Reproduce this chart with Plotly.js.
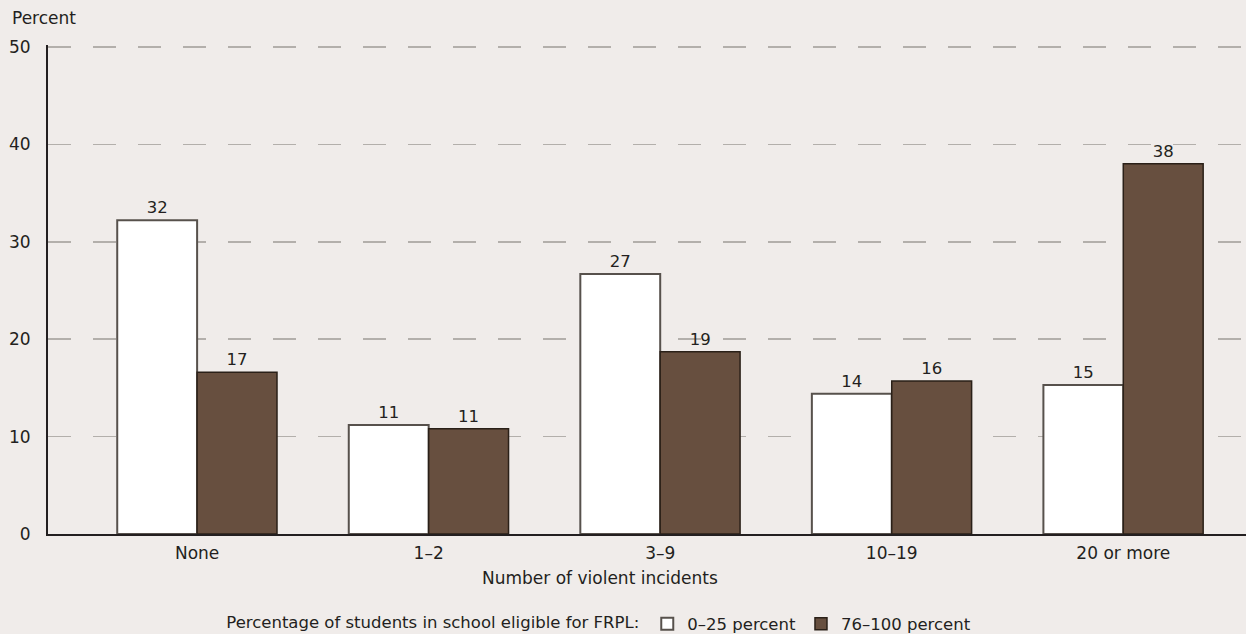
<!DOCTYPE html>
<html>
<head>
<meta charset="utf-8">
<script src="https://cdn.plot.ly/plotly-3.0.1.min.js"></script>
<style>html,body{margin:0;padding:0;background:#f0ecea;}#chart{width:1246px;height:634px;}</style>
</head>
<body>
<div id="chart"></div>
<script>
const categories = ["None", "1–2", "3–9", "10–19", "20 or more"];
const low = [32.2, 11.2, 26.7, 14.4, 15.3];
const high = [16.6, 10.8, 18.7, 15.7, 38.0];
const seriesNames = ["0–25 percent", "76–100 percent"];
const yTicks = [0, 10, 20, 30, 40, 50];

const FONT = "DejaVu Sans, sans-serif";
const traces = [
  {
    type: "bar", x: categories, y: low, name: seriesNames[0],
    marker: {color: "#ffffff", line: {color: "#57514c", width: 2}},
    texttemplate: "%{y:.0f}", textposition: "outside", cliponaxis: false,
    textfont: {family: FONT, size: 16.5, color: "#231f20"}, hoverinfo: "skip"
  },
  {
    type: "bar", x: categories, y: high, name: seriesNames[1],
    marker: {color: "#674f3f", line: {color: "#2a2018", width: 1.5}},
    texttemplate: "%{y:.0f}", textposition: "outside", cliponaxis: false,
    textfont: {family: FONT, size: 16.5, color: "#231f20"}, hoverinfo: "skip"
  }
];

const layout = {
  width: 1246, height: 634,
  paper_bgcolor: "#f0ecea", plot_bgcolor: "#f0ecea",
  margin: {l: 48, r: 0, t: 45, b: 100, autoexpand: false},
  font: {family: FONT, size: 16.5, color: "#231f20"},
  barmode: "group", bargap: 0.31, bargroupgap: 0,
  showlegend: true,
  legend: {
    orientation: "h", x: 0.461, xanchor: "center", y: -0.184, yanchor: "middle",
    font: {family: FONT, size: 16.5, color: "#231f20"},
    title: {text: "Percentage of students in school eligible for FRPL:", side: "left", font: {family: FONT, size: 16.5}},
    bgcolor: "rgba(0,0,0,0)", itemclick: false, traceorder: "normal"
  },
  xaxis: {
    type: "category", range: [-0.644, 4.53], showgrid: false,
    showline: true, linecolor: "#231f20", linewidth: 2, ticks: "", ticklabelstandoff: 3,
    tickfont: {family: FONT, size: 17, color: "#231f20"}, fixedrange: true
  },
  yaxis: {
    range: [0, 50.2], tickvals: yTicks, showgrid: true,
    gridcolor: "#b3afab", gridwidth: 1.5, griddash: "23px,22px",
    zeroline: false, showline: true, linecolor: "#231f20", linewidth: 2,
    ticks: "", ticklabelstandoff: 12, tickfont: {family: FONT, size: 17, color: "#231f20"}, fixedrange: true
  },
  annotations: [
    {text: "Percent", xref: "paper", yref: "paper", x: -0.032, y: 1.055, xanchor: "left", yanchor: "middle",
     showarrow: false, font: {family: FONT, size: 17, color: "#231f20"}},
    {text: "Number of violent incidents", xref: "paper", yref: "paper", x: 0.461, y: -0.09, xanchor: "center", yanchor: "middle",
     showarrow: false, font: {family: FONT, size: 17, color: "#231f20"}}
  ]
};

Plotly.newPlot("chart", traces, layout, {staticPlot: true, displayModeBar: false});
</script>
</body>
</html>
